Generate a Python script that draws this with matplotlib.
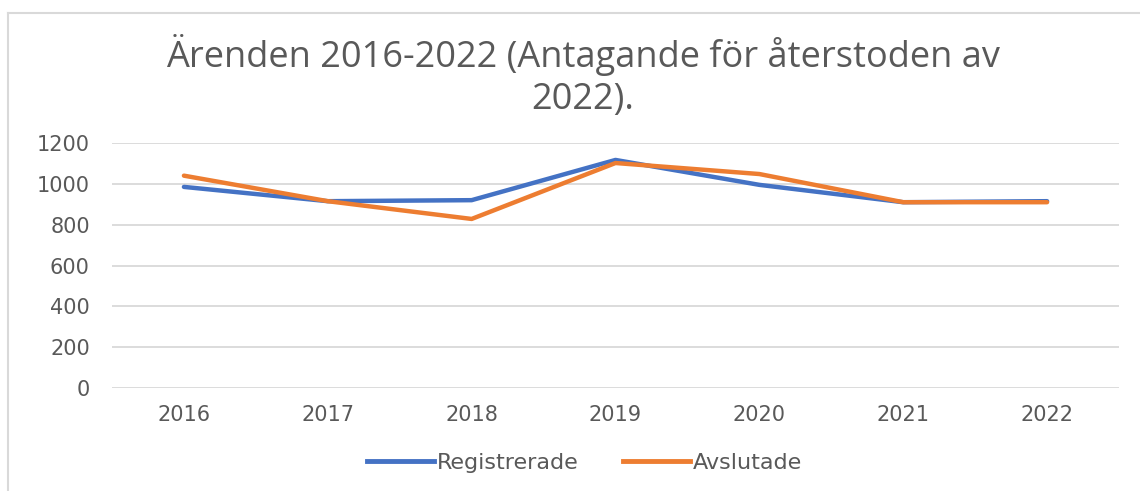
import matplotlib
matplotlib.use("Agg")
import matplotlib.pyplot as plt
from matplotlib.lines import Line2D

years = ["2016", "2017", "2018", "2019", "2020", "2021", "2022"]
registrerade = [985, 915, 920, 1117, 995, 910, 915]
avslutade = [1040, 915, 828, 1102, 1048, 910, 910]
yticks = [0, 200, 400, 600, 800, 1000, 1200]

title = "Ärenden 2016-2022 (Antagande för återstoden av\n2022)."

blue = "#4472C4"
orange = "#ED7D31"
grey = "#595959"
gridc = "#D9D9D9"

plt.rcParams["font.family"] = "DejaVu Sans"

fig = plt.figure(figsize=(11.4, 4.91), dpi=100)
ax = fig.add_axes([112 / 1140, 1 - 388 / 491, (1119 - 112) / 1140, (388 - 143) / 491])

x = list(range(len(years)))
ax.plot(x, registrerade, color=blue, lw=3.2, solid_capstyle="round", solid_joinstyle="round")
ax.plot(x, avslutade, color=orange, lw=3.2, solid_capstyle="round", solid_joinstyle="round")

ax.set_xlim(-0.5, len(years) - 0.5)
ax.set_ylim(0, 1200)
ax.set_yticks(yticks)
ax.set_xticks(x)
ax.set_xticklabels(years)
ax.yaxis.grid(True, color=gridc, lw=1.3)
ax.set_axisbelow(True)
for s in ax.spines.values():
    s.set_visible(False)
ax.tick_params(axis="both", length=0, labelsize=15, labelcolor=grey)
ax.tick_params(axis="x", pad=12)
ax.tick_params(axis="y", pad=16)

fig.text(0.511, 1 - 76 / 491, title, ha="center", va="center", fontsize=26,
         color=grey, family="Open Sans", linespacing=1.2)

handles = [Line2D([], [], color=blue, lw=3.5), Line2D([], [], color=orange, lw=3.5)]
fig.legend(handles, ["Registrerade", "Avslutade"], loc="center", bbox_to_anchor=(0.513, 1 - 463 / 491),
           ncol=2, frameon=False, handlelength=3.0, handletextpad=0.15, columnspacing=2.0,
           prop={"size": 16}, labelcolor=grey)

# light border at top and left like the pasted chart box
fig.add_artist(Line2D([8 / 1140, 8 / 1140], [0, 1 - 13 / 491], transform=fig.transFigure, color=gridc, lw=1.5))
fig.add_artist(Line2D([8 / 1140, 1], [1 - 13 / 491, 1 - 13 / 491], transform=fig.transFigure, color=gridc, lw=1.5))

fig.savefig("out.png", dpi=100)
